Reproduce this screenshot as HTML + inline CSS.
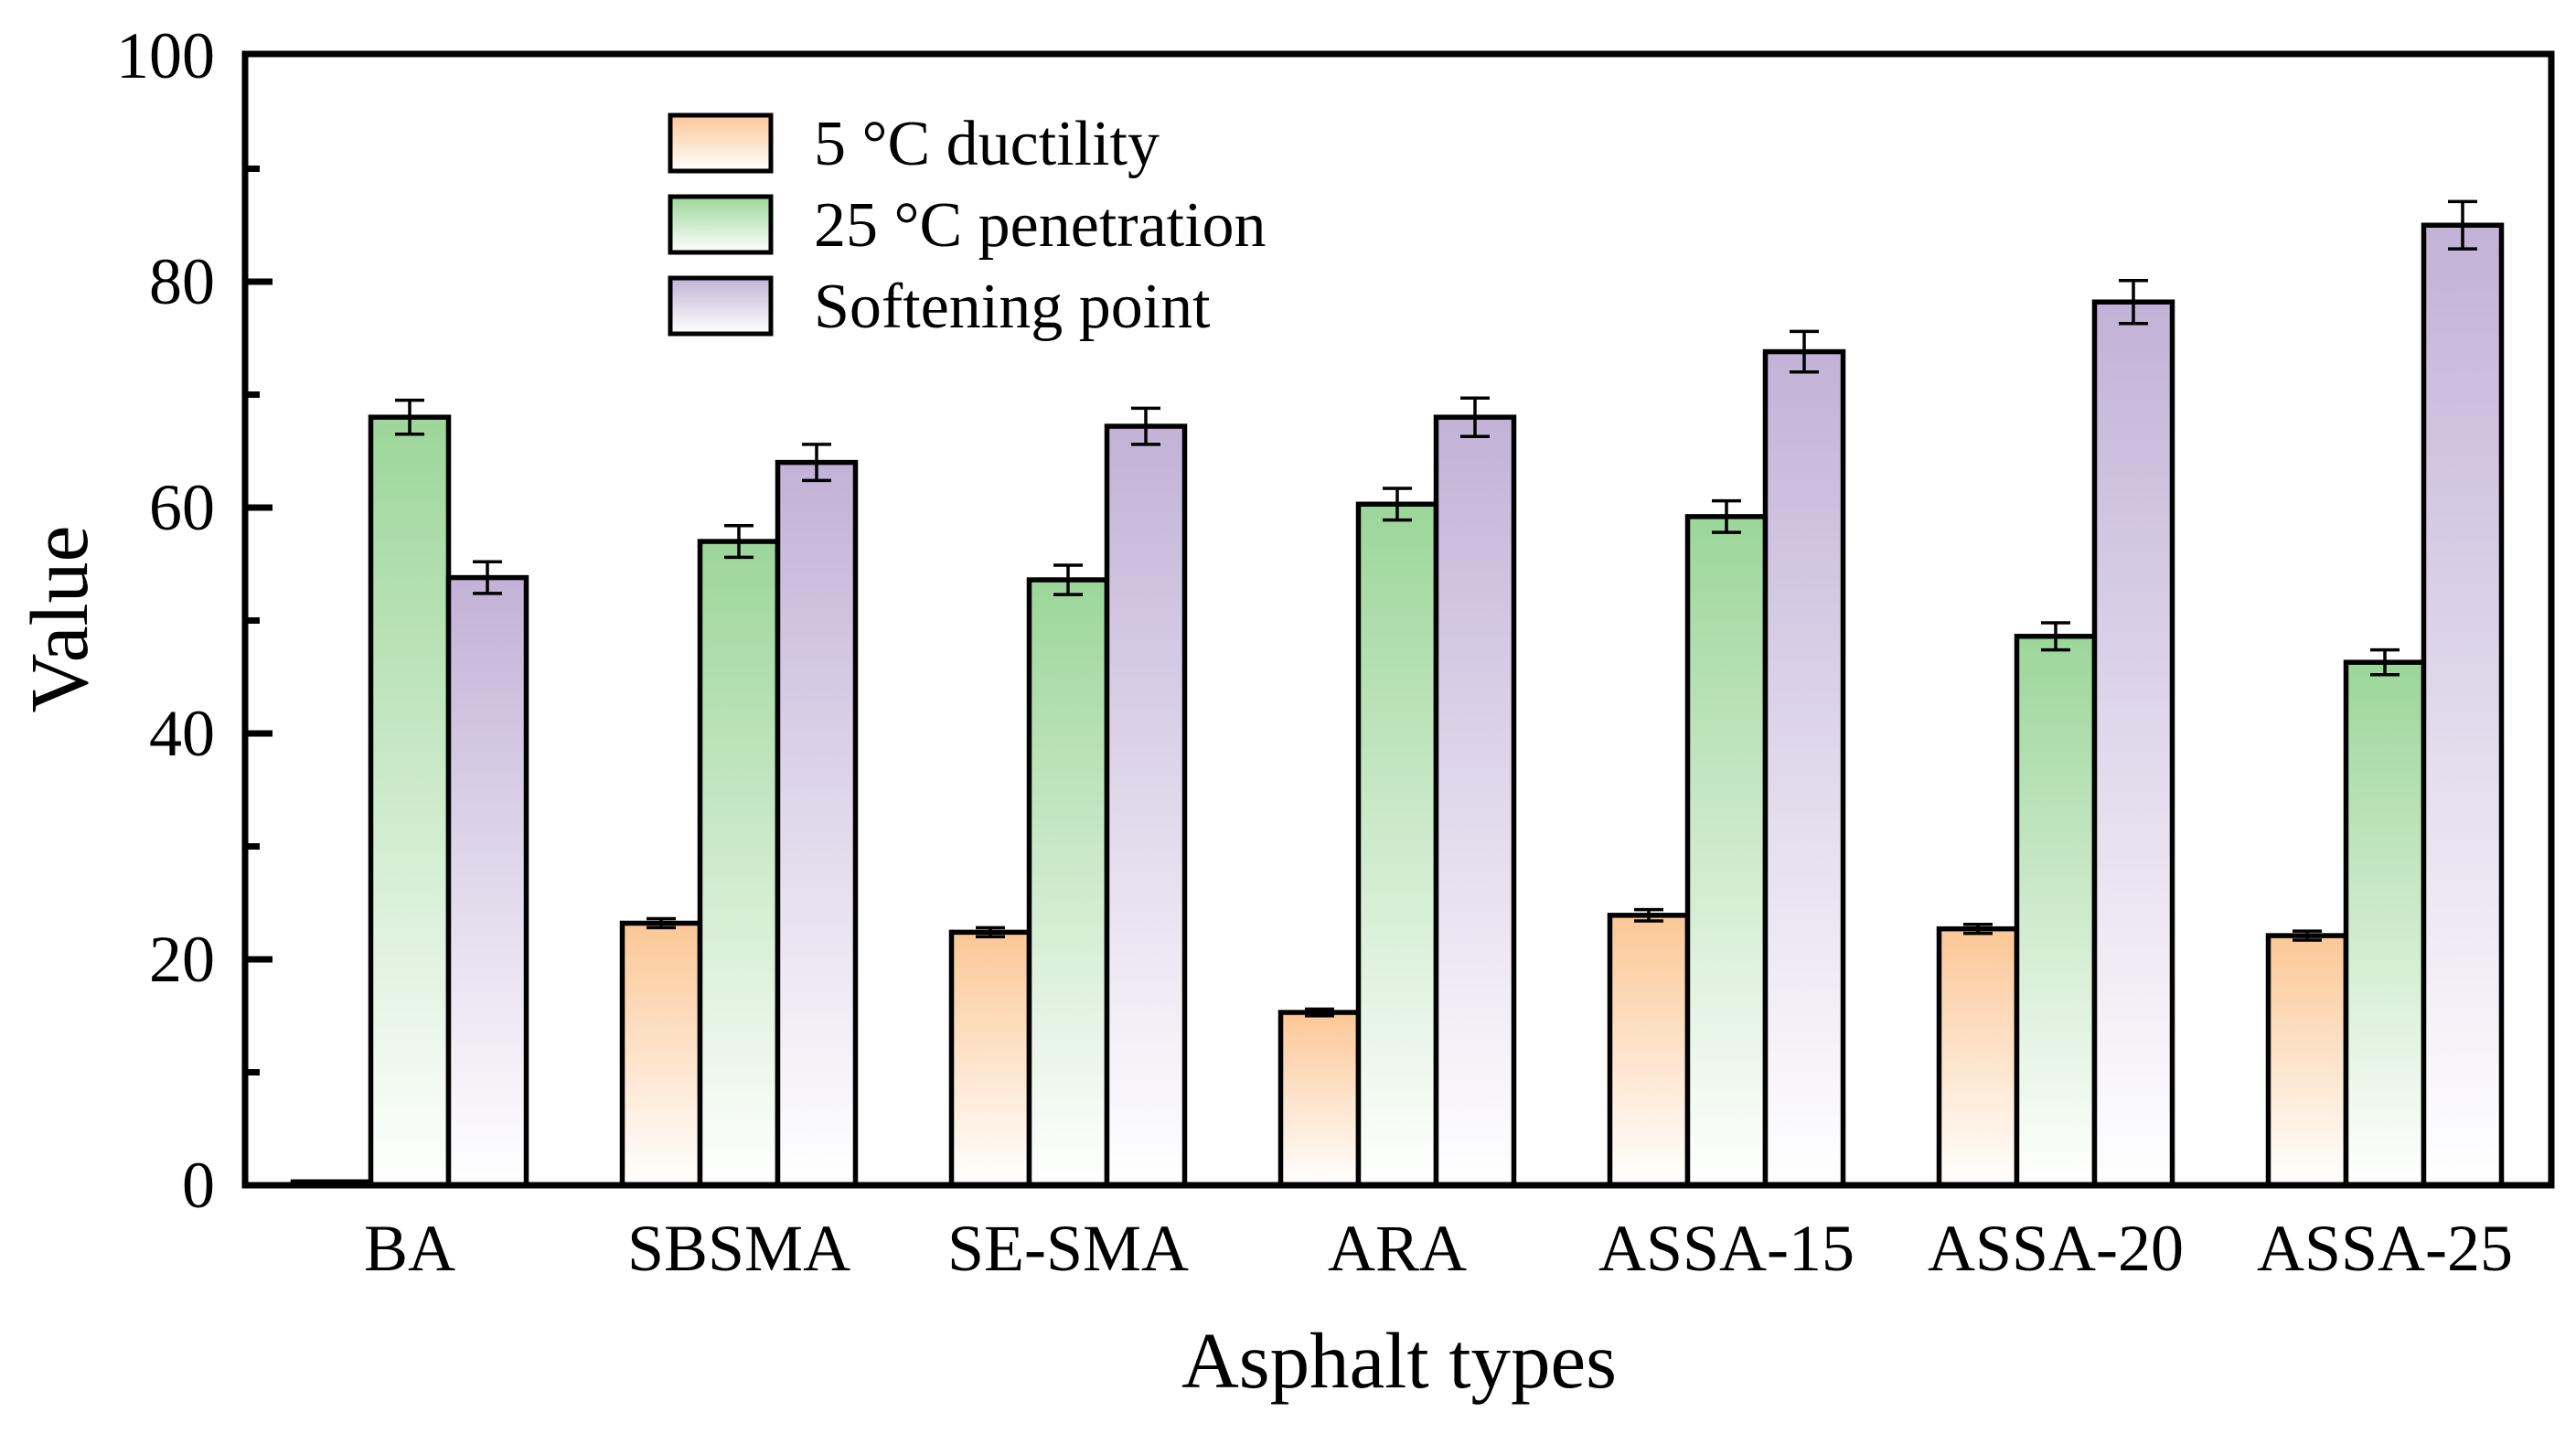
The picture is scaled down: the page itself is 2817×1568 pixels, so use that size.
<!DOCTYPE html>
<html><head><meta charset="utf-8"><style>
html,body{margin:0;padding:0;background:#fff}
svg{display:block}
text{font-family:"Liberation Serif",serif;fill:#000}
</style></head><body>
<svg id="chart" width="2817" height="1568" viewBox="0 0 2817 1568" xmlns="http://www.w3.org/2000/svg">
<defs>
<linearGradient id="gO" x1="0" y1="0" x2="0" y2="1"><stop offset="0" stop-color="#fbc796"/><stop offset="1" stop-color="#ffffff"/></linearGradient>
<linearGradient id="gG" x1="0" y1="0" x2="0" y2="1"><stop offset="0" stop-color="#9cd699"/><stop offset="1" stop-color="#ffffff"/></linearGradient>
<linearGradient id="gP" x1="0" y1="0" x2="0" y2="1"><stop offset="0" stop-color="#c2b2d7"/><stop offset="1" stop-color="#ffffff"/></linearGradient>
</defs>
<g id="bars"></g>
<g id="axes"></g>
<g id="legend"></g>
</svg>
<script>
const categories = ["BA","SBSMA","SE-SMA","ARA","ASSA-15","ASSA-20","ASSA-25"];
const ductility = [0.3,23.2,22.4,15.3,23.9,22.7,22.1];
const ductilityErr = [0,0.4,0.4,0.3,0.5,0.4,0.4];
const penetration = [68,57,53.6,60.3,59.2,48.6,46.3];
const penetrationErr = [1.5,1.4,1.3,1.4,1.4,1.2,1.1];
const softening = [53.8,64,67.2,68,73.8,78.2,85];
const softeningErr = [1.4,1.6,1.6,1.7,1.8,1.9,2.1];
const yTicks = [0,20,40,60,80,100];
const yMinor = [10,30,50,70,90];
const legendLabels = ["5 \u00B0C ductility","25 \u00B0C penetration","Softening point"];

const NS="http://www.w3.org/2000/svg";
const L=268,R=2790,T=59,B=1296;
function y(v){return B-(v/100)*(B-61);}
function xc(i){return 448+360*i;}
const BW=85;
function mk(tag,attrs,parent){const e=document.createElementNS(NS,tag);for(const k in attrs)e.setAttribute(k,attrs[k]);parent.appendChild(e);return e;}
const bars=document.getElementById('bars'),axes=document.getElementById('axes'),leg=document.getElementById('legend');
const series=[[ductility,ductilityErr,'url(#gO)',-1,'ductility'],[penetration,penetrationErr,'url(#gG)',0,'penetration'],[softening,softeningErr,'url(#gP)',1,'softening']];
series.forEach(s=>{
  s[0].forEach((v,i)=>{
    const x0=xc(i)+s[3]*BW-BW/2;
    const r=mk('rect',{x:x0,y:y(v),width:BW,height:B-y(v),fill:s[2],stroke:'#000','stroke-width':5.5},bars);
    
    
    const e=s[1][i];
    if(e>0){
      const cx=x0+BW/2;
      const g=mk('g',{stroke:'#000','stroke-width':3.5},bars);
      
      
      mk('line',{x1:cx,x2:cx,y1:y(v+e),y2:y(v-e)},g);
      mk('line',{x1:cx-16,x2:cx+16,y1:y(v+e),y2:y(v+e)},g);
      mk('line',{x1:cx-16,x2:cx+16,y1:y(v-e),y2:y(v-e)},g);
    }
  });
});
const frame=mk('rect',{x:L,y:T,width:R-L,height:B-T,fill:'none',stroke:'#000','stroke-width':7},axes);


yTicks.forEach(v=>{
  if(v>0&&v<100)mk('line',{x1:L,x2:L+30,y1:y(v),y2:y(v),stroke:'#000','stroke-width':7},axes);
  const t=mk('text',{x:235,y:y(v)+24,'text-anchor':'end','font-size':72},axes);
  t.textContent=v;
  
  
});
yMinor.forEach(v=>{mk('line',{x1:L,x2:L+16,y1:y(v),y2:y(v),stroke:'#000','stroke-width':7},axes);});
categories.forEach((c,i)=>{
  const t=mk('text',{x:xc(i),y:1389,'text-anchor':'middle','font-size':72},axes);
  t.textContent=c;
  
  
});
const xt=mk('text',{x:1530,y:1517,'text-anchor':'middle','font-size':87},axes);
xt.textContent='Asphalt types';


const yt=mk('text',{x:0,y:0,'text-anchor':'middle','font-size':90,transform:'translate(95,677) rotate(-90)'},axes);
yt.textContent='Value';


const fills=['url(#gO)','url(#gG)','url(#gP)'];
legendLabels.forEach((lab,i)=>{
  const yy=126+i*89;
  const g=mk('g',{},leg);
  
  
  mk('rect',{x:733,y:yy,width:110,height:61,fill:fills[i],stroke:'#000','stroke-width':5},g);
  const t=mk('text',{x:890,y:yy+54,'font-size':70},g);
  t.textContent=lab;
});
</script>
</body></html>
